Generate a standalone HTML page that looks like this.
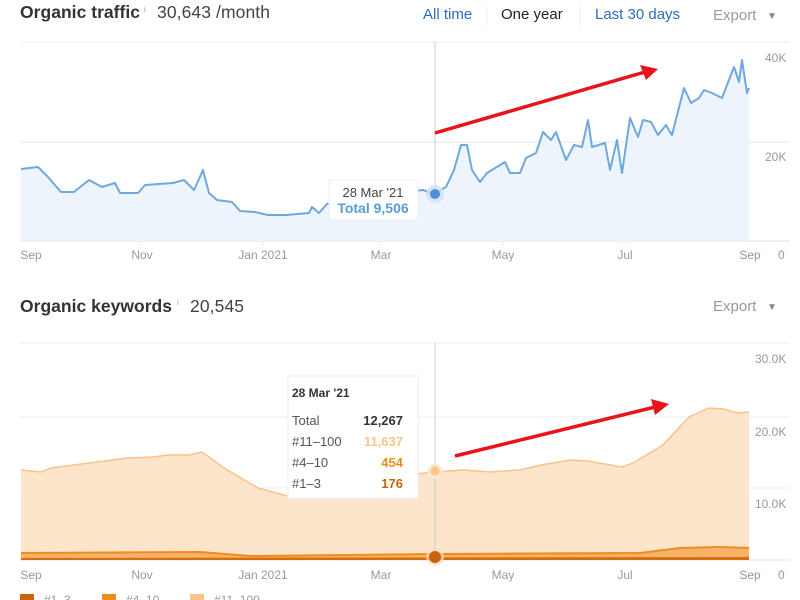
<!DOCTYPE html>
<html><head><meta charset="utf-8"><style>
body{margin:0;background:#fff;width:800px;height:600px;overflow:hidden;font-family:"Liberation Sans",Arial,sans-serif}
svg{display:block}
</style></head><body>
<svg width="800" height="600" viewBox="0 0 800 600" font-family="Liberation Sans, Arial, sans-serif">
<!-- Header 1 -->
<text x="20" y="18" font-size="17.5" font-weight="bold" fill="#333" textLength="120">Organic traffic</text>
<text x="144" y="12" font-size="8" fill="#999">i</text>
<text x="157" y="18" font-size="17.5" fill="#444" textLength="113">30,643 /month</text>
<text x="423" y="19" font-size="15" fill="#2d6cc0">All time</text>
<line x1="487" y1="6" x2="487" y2="26" stroke="#eee"/>
<text x="501" y="19" font-size="15" fill="#222">One year</text>
<line x1="580" y1="6" x2="580" y2="26" stroke="#eee"/>
<text x="595" y="19" font-size="15" fill="#2d6cc0">Last 30 days</text>
<text x="713" y="20" font-size="15" fill="#999">Export</text>
<text x="767" y="19" font-size="10" fill="#888">▼</text>

<!-- Traffic grid -->
<line x1="20" y1="42" x2="790" y2="42" stroke="#eee"/>
<line x1="20" y1="142" x2="790" y2="142" stroke="#e5e5e5"/>
<line x1="20" y1="241" x2="790" y2="241" stroke="#ddd"/>
<g stroke="#eee"><line x1="141" y1="241" x2="141" y2="246"/><line x1="263" y1="241" x2="263" y2="246"/><line x1="381" y1="241" x2="381" y2="246"/><line x1="503" y1="241" x2="503" y2="246"/><line x1="624" y1="241" x2="624" y2="246"/></g>
<text x="765" y="62" font-size="12" fill="#999">40K</text>
<text x="765" y="161" font-size="12" fill="#999">20K</text>
<text x="778" y="259" font-size="12" fill="#999">0</text>
<g font-size="12" fill="#999" text-anchor="middle">
<text x="31" y="259">Sep</text><text x="142" y="259">Nov</text><text x="263" y="259">Jan 2021</text><text x="381" y="259">Mar</text><text x="503" y="259">May</text><text x="625" y="259">Jul</text><text x="750" y="259">Sep</text></g>
<line x1="435" y1="42" x2="435" y2="241" stroke="#ccc"/>
<polygon fill="#eef4fc" points="21,241 21,169 38,167 48,177 61,192 74,192 89,180 102,187 115,183 120,193 138,193 145,185 173,183 184,180 194,190 203,170 209,193 217,200 232,202 240,211 255,212 268,215 286,215 309,213 312,207 319,213 327,204 340,200 380,195 423,190 434,194 446,187 454,170 461,145 467,145 472,170 480,182 487,173 505,162 510,173 520,173 526,158 536,153 543,132 551,140 556,132 566,160 574,145 582,147 588,120 592,147 605,143 610,170 617,140 622,173 630,118 638,137 643,120 651,122 658,135 666,125 672,135 684,88 691,103 699,98 704,90 712,93 722,98 734,67 739,82 742,60 747,93 749,88 749,241"/>
<polyline fill="none" stroke="#6fa8dc" stroke-width="2" stroke-linejoin="round" points="21,169 38,167 48,177 61,192 74,192 89,180 102,187 115,183 120,193 138,193 145,185 173,183 184,180 194,190 203,170 209,193 217,200 232,202 240,211 255,212 268,215 286,215 309,213 312,207 319,213 327,204 340,200 380,195 423,190 434,194 446,187 454,170 461,145 467,145 472,170 480,182 487,173 505,162 510,173 520,173 526,158 536,153 543,132 551,140 556,132 566,160 574,145 582,147 588,120 592,147 605,143 610,170 617,140 622,173 630,118 638,137 643,120 651,122 658,135 666,125 672,135 684,88 691,103 699,98 704,90 712,93 722,98 734,67 739,82 742,60 747,93 749,88"/>
<rect x="329" y="180" width="89" height="40" fill="#fff" stroke="#eee"/>
<text x="373" y="197" font-size="13" fill="#444" text-anchor="middle">28 Mar '21</text>
<text x="373" y="213" font-size="14" font-weight="bold" fill="#5b9bd5" text-anchor="middle">Total 9,506</text>
<circle cx="435" cy="194" r="9" fill="#cfe1f5" opacity="0.8"/>
<circle cx="435" cy="194" r="5" fill="#4a90d9"/>
<line x1="435" y1="133" x2="645" y2="72" stroke="#e8141b" stroke-width="3.5"/>
<polygon points="658,69 640,65 646,80" fill="#e8141b"/>

<!-- Header 2 -->
<text x="20" y="312" font-size="17.5" font-weight="bold" fill="#333" textLength="152">Organic keywords</text>
<text x="177" y="305" font-size="8" fill="#999">i</text>
<text x="190" y="312" font-size="17.5" fill="#444" textLength="54">20,545</text>
<text x="713" y="311" font-size="15" fill="#999">Export</text>
<text x="767" y="310" font-size="10" fill="#888">▼</text>

<line x1="20" y1="343" x2="790" y2="343" stroke="#eee"/>
<line x1="20" y1="417" x2="790" y2="417" stroke="#eee"/>
<line x1="20" y1="488" x2="790" y2="488" stroke="#eee"/>
<line x1="20" y1="560" x2="790" y2="560" stroke="#ddd"/>
<text x="755" y="363" font-size="12" fill="#999">30.0K</text>
<text x="755" y="436" font-size="12" fill="#999">20.0K</text>
<text x="755" y="508" font-size="12" fill="#999">10.0K</text>
<text x="778" y="579" font-size="12" fill="#999">0</text>
<g font-size="12" fill="#999" text-anchor="middle">
<text x="31" y="579">Sep</text><text x="142" y="579">Nov</text><text x="263" y="579">Jan 2021</text><text x="381" y="579">Mar</text><text x="503" y="579">May</text><text x="625" y="579">Jul</text><text x="750" y="579">Sep</text></g>
<polygon fill="#fde5cc" points="21,560 21,470 41,472 51,468 97,462 128,458 153,457 168,455 189,455 202,452 209,457 224,468 258,488 291,497 330,490 380,478 434,472 464,470 490,472 520,470 541,465 571,460 587,461 622,467 633,463 663,445 689,417 709,408 724,409 737,413 749,412 749,560"/>
<polyline fill="none" stroke="#f9c28a" stroke-width="1.5" points="21,470 41,472 51,468 97,462 128,458 153,457 168,455 189,455 202,452 209,457 224,468 258,488 291,497 330,490 380,478 434,472 464,470 490,472 520,470 541,465 571,460 587,461 622,467 633,463 663,445 689,417 709,408 724,409 737,413 749,412"/>
<polygon fill="#f7b26a" points="21,560 21,553 200,552 250,556 434,554 640,553 680,548 720,547 749,548 749,560"/>
<polyline fill="none" stroke="#f08c1e" stroke-width="2" points="21,553 200,552 250,556 434,554 640,553 680,548 720,547 749,548"/>
<polygon fill="#d2700f" points="21,560 21,558 749,557 749,560"/>
<line x1="435" y1="343" x2="435" y2="560" stroke="#ccc"/>
<rect x="288" y="376" width="130" height="122" fill="#fff" stroke="#eee"/>
<text x="292" y="397" font-size="12" font-weight="bold" fill="#333">28 Mar '21</text>
<text x="292" y="425" font-size="13" fill="#555">Total</text>
<text x="403" y="425" font-size="13" font-weight="bold" fill="#333" text-anchor="end">12,267</text>
<text x="292" y="446" font-size="13" fill="#555">#11–100</text>
<text x="403" y="446" font-size="13" font-weight="bold" fill="#fbc48a" text-anchor="end">11,637</text>
<text x="292" y="467" font-size="13" fill="#555">#4–10</text>
<text x="403" y="467" font-size="13" font-weight="bold" fill="#f08c1e" text-anchor="end">454</text>
<text x="292" y="488" font-size="13" fill="#555">#1–3</text>
<text x="403" y="488" font-size="13" font-weight="bold" fill="#c8640a" text-anchor="end">176</text>
<circle cx="435" cy="471" r="6" fill="#fbc48a" stroke="#fde9d4" stroke-width="3"/>
<circle cx="435" cy="557" r="9" fill="#fbdcc0" opacity="0.7"/>
<circle cx="435" cy="557" r="6" fill="#c8640a"/>
<line x1="455" y1="456" x2="655" y2="407" stroke="#e8141b" stroke-width="3.5"/>
<polygon points="669,404 651,399 655,415" fill="#e8141b"/>

<!-- legend -->
<rect x="20" y="594" width="14" height="10" fill="#c8640a"/>
<text x="44" y="604" font-size="12" fill="#999">#1–3</text>
<rect x="102" y="594" width="14" height="10" fill="#f08c1e"/>
<text x="126" y="604" font-size="12" fill="#999">#4–10</text>
<rect x="190" y="594" width="14" height="10" fill="#fbc48a"/>
<text x="214" y="604" font-size="12" fill="#999">#11–100</text>
</svg>
</body></html>
